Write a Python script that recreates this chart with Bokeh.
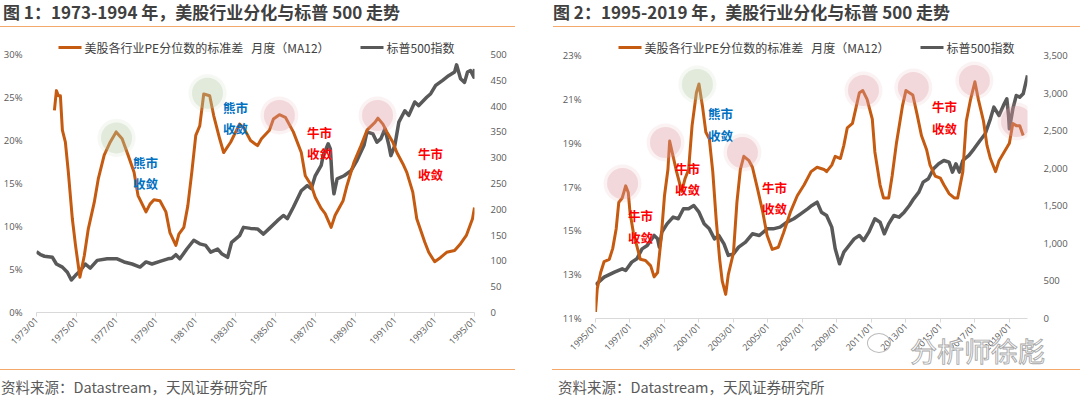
import numpy as np
from math import pi
from bokeh.plotting import figure
from bokeh.models import Range1d, LinearAxis, FixedTicker, NumeralTickFormatter, Label, BoxAnnotation, Div
from bokeh.layouts import row, column
from bokeh.embed import file_html
from bokeh.resources import INLINE

CJK = "Noto Sans CJK SC"
NUM = "Open Sans"

# ---------------- texts ----------------
title1 = "图 1：1973-1994 年，美股行业分化与标普 500 走势"
title2 = "图 2：1995-2019 年，美股行业分化与标普 500 走势"
legend_disp = "美股各行业PE分位数的标准差\u00a0\u00a0\u00a0月度（MA12）"
legend_spx = "标普500指数"
source_text = "资料来源：Datastream，天风证券研究所"
watermark = "分析师徐彪"

# ---------------- chart 1 data (1973-1994) ----------------
c1_ticks = list(range(1973, 1996, 2))
c1_tick_labels = [f"{y}/01" for y in c1_ticks]
c1_pct_ticks = [0, 5, 10, 15, 20, 25, 30]
c1_spx_ticks = [0, 50, 100, 150, 200, 250, 300, 350, 400, 450, 500]

c1_disp = [(1973.9, 23.5), (1974.0, 25.8), (1974.1, 25.2), (1974.2, 25.2), (1974.3, 21.2), (1974.45, 19.8),
           (1974.6, 16.3), (1974.8, 10.9), (1974.96, 7.8), (1975.18, 4.1), (1975.4, 6.6), (1975.6, 9.7),
           (1975.9, 12.8), (1976.1, 15.5), (1976.4, 18.3), (1976.7, 19.8), (1977.0, 21.0), (1977.3, 20.2),
           (1977.6, 18.3), (1977.9, 16.3), (1978.1, 13.6), (1978.5, 11.7), (1978.7, 12.6), (1978.9, 13.1),
           (1979.2, 13.0), (1979.5, 11.7), (1979.7, 9.3), (1980.0, 7.8), (1980.15, 9.1), (1980.4, 9.9),
           (1980.6, 12.4), (1980.8, 16.3), (1981.0, 20.6), (1981.2, 21.7), (1981.4, 25.4), (1981.7, 25.2),
           (1981.9, 22.9), (1982.2, 20.2), (1982.4, 18.6), (1982.75, 19.8), (1983.2, 21.9), (1983.4, 21.5),
           (1983.75, 20.0), (1984.1, 19.4), (1984.3, 20.2), (1984.7, 21.2), (1984.9, 22.5), (1985.2, 23.0),
           (1985.5, 22.7), (1985.9, 21.0), (1986.3, 18.6), (1986.5, 15.9), (1986.8, 14.8), (1987.0, 13.4),
           (1987.3, 12.1), (1987.5, 11.5), (1987.8, 9.9), (1988.0, 11.3), (1988.4, 13.0), (1988.6, 14.8),
           (1988.95, 17.5), (1989.3, 19.4), (1989.6, 21.2), (1990.0, 22.1), (1990.15, 22.6), (1990.4, 21.9),
           (1990.6, 21.0), (1990.9, 19.8), (1991.1, 18.6), (1991.4, 17.3), (1991.6, 16.3), (1991.9, 14.0),
           (1992.1, 10.9), (1992.5, 8.2), (1992.7, 7.0), (1993.0, 5.9), (1993.3, 6.4), (1993.6, 7.0),
           (1994.0, 7.2), (1994.3, 8.0), (1994.6, 9.0), (1994.9, 10.9), (1995.0, 12.2)]

c1_spx = [(1973.0, 118), (1973.2, 112), (1973.4, 109), (1973.6, 108), (1973.8, 107), (1974.0, 94), (1974.3, 88),
          (1974.55, 78), (1974.75, 63), (1974.96, 72), (1975.2, 81), (1975.45, 94), (1975.7, 86), (1976.05, 101),
          (1976.55, 104), (1977.05, 104), (1977.4, 98), (1977.8, 94), (1978.2, 88), (1978.5, 98), (1978.8, 94),
          (1979.2, 99), (1979.6, 104), (1979.8, 105), (1980.0, 112), (1980.2, 104), (1980.55, 123), (1980.9, 140),
          (1981.2, 133), (1981.5, 130), (1981.75, 117), (1982.1, 123), (1982.3, 114), (1982.6, 107), (1982.8, 136),
          (1983.2, 149), (1983.4, 165), (1983.75, 163), (1984.1, 162), (1984.4, 152), (1984.7, 163), (1985.1, 178),
          (1985.4, 188), (1985.6, 182), (1985.9, 204), (1986.3, 236), (1986.6, 246), (1986.8, 240), (1987.0, 265),
          (1987.3, 285), (1987.4, 304), (1987.65, 327), (1987.76, 317), (1987.85, 259), (1987.94, 230),
          (1988.1, 259), (1988.45, 265), (1988.8, 275), (1989.1, 295), (1989.45, 324), (1989.6, 350),
          (1989.9, 346), (1990.1, 330), (1990.3, 337), (1990.5, 356), (1990.7, 324), (1990.8, 304), (1991.0, 324),
          (1991.2, 369), (1991.5, 391), (1991.7, 382), (1992.0, 408), (1992.2, 401), (1992.6, 417), (1992.8, 424),
          (1993.05, 440), (1993.4, 450), (1993.7, 459), (1994.0, 466), (1994.1, 480), (1994.3, 453), (1994.5, 446),
          (1994.65, 466), (1994.8, 469), (1994.97, 456), (1995.0, 472)]

# highlighted turning points (date, level %, kind)
c1_hl = [(1977.02, 20.3, "bear"), (1981.59, 25.5, "bear"), (1985.2, 22.9, "bull"), (1990.13, 22.9, "bull")]
# notes: (line1, line2, date, level of line1 %, level of line2 %, kind)
c1_notes = [("熊市", "收敛", 1978.47, 17.44, 15.0, "bear"), ("熊市", "收敛", 1982.99, 23.84, 21.4, "bear"),
            ("牛市", "收敛", 1987.21, 20.93, 18.49, "bull"), ("牛市", "收敛", 1992.79, 18.49, 16.05, "bull")]

# ---------------- chart 2 data (1995-2019) ----------------
c2_ticks = list(range(1995, 2020, 2))
c2_tick_labels = [f"{y}/01" for y in c2_ticks]
c2_pct_ticks = [11, 13, 15, 17, 19, 21, 23]
c2_spx_ticks = [0, 500, 1000, 1500, 2000, 2500, 3000, 3500]

c2_disp = [(1995.0, 11.3), (1995.1, 12.35), (1995.3, 13.1), (1995.5, 13.6), (1995.8, 13.7), (1996.0, 14.2),
           (1996.2, 15.1), (1996.35, 16.3), (1996.55, 16.5), (1996.75, 17.05), (1996.9, 16.75), (1997.0, 15.85),
           (1997.2, 14.9), (1997.4, 14.3), (1997.6, 13.7), (1997.9, 13.65), (1998.2, 13.4), (1998.4, 12.9),
           (1998.6, 13.1), (1998.8, 14.6), (1999.0, 16.6), (1999.2, 17.8), (1999.3, 19.1), (1999.5, 18.4),
           (1999.7, 17.7), (2000.0, 16.8), (2000.2, 17.4), (2000.4, 17.8), (2000.6, 19.8), (2000.85, 21.3),
           (2001.0, 21.7), (2001.2, 20.7), (2001.4, 19.5), (2001.6, 19.2), (2001.8, 17.7), (2002.0, 15.5),
           (2002.2, 13.7), (2002.35, 12.7), (2002.55, 12.1), (2002.7, 13.0), (2003.0, 14.0), (2003.2, 16.3),
           (2003.4, 17.8), (2003.6, 18.4), (2003.9, 18.2), (2004.1, 17.9), (2004.4, 16.9), (2004.7, 15.85),
           (2004.95, 14.8), (2005.25, 14.15), (2005.6, 14.25), (2005.9, 14.9), (2006.3, 15.85), (2006.7, 16.6),
           (2007.1, 17.1), (2007.5, 17.7), (2007.85, 17.9), (2008.25, 17.8), (2008.4, 17.7), (2008.7, 18.0),
           (2008.9, 18.4), (2009.2, 18.3), (2009.4, 18.9), (2009.6, 19.7), (2009.9, 19.9), (2010.1, 20.6),
           (2010.3, 21.3), (2010.5, 21.4), (2010.75, 21.0), (2011.05, 20.1), (2011.2, 18.6), (2011.5, 17.1),
           (2011.7, 16.5), (2012.0, 16.5), (2012.2, 17.5), (2012.45, 19.0), (2012.8, 20.7), (2013.0, 21.4),
           (2013.4, 21.2), (2013.65, 20.3), (2013.9, 19.35), (2014.2, 18.7), (2014.4, 18.0), (2014.7, 17.5),
           (2015.0, 17.4), (2015.2, 17.1), (2015.5, 16.7), (2015.8, 16.5), (2016.0, 16.5), (2016.3, 17.7),
           (2016.5, 20.0), (2016.75, 21.0), (2017.0, 21.8), (2017.2, 21.0), (2017.5, 20.0), (2017.7, 18.9),
           (2017.9, 18.3), (2018.2, 17.7), (2018.4, 18.2), (2018.7, 18.6), (2019.0, 19.0), (2019.2, 19.9),
           (2019.4, 19.8), (2019.6, 19.8), (2019.8, 19.35)]

c2_spx = [(1995.0, 448), (1995.5, 550), (1996.1, 617), (1996.55, 661), (1996.75, 639), (1997.1, 750),
          (1997.4, 794), (1997.7, 927), (1998.0, 972), (1998.4, 1105), (1998.6, 1060), (1998.7, 949),
          (1998.85, 1149), (1999.15, 1260), (1999.5, 1349), (1999.8, 1327), (2000.1, 1460), (2000.4, 1460),
          (2000.7, 1504), (2001.0, 1415), (2001.3, 1260), (2001.6, 1193), (2001.9, 1060), (2002.15, 1105),
          (2002.45, 994), (2002.7, 839), (2003.0, 861), (2003.3, 949), (2003.7, 1016), (2004.1, 1127),
          (2004.5, 1105), (2004.95, 1193), (2005.3, 1193), (2005.7, 1216), (2006.1, 1282), (2006.5, 1327),
          (2006.9, 1393), (2007.3, 1460), (2007.55, 1504), (2007.85, 1548), (2008.1, 1415), (2008.4, 1371),
          (2008.7, 1216), (2008.9, 927), (2009.15, 728), (2009.4, 883), (2009.7, 972), (2010.0, 1060),
          (2010.3, 1105), (2010.55, 1038), (2010.85, 1149), (2011.2, 1327), (2011.5, 1282), (2011.75, 1127),
          (2012.0, 1260), (2012.3, 1371), (2012.6, 1349), (2012.9, 1415), (2013.2, 1504), (2013.45, 1593),
          (2013.75, 1681), (2014.0, 1815), (2014.3, 1859), (2014.6, 1992), (2014.9, 2059), (2015.2, 2103),
          (2015.5, 2081), (2015.7, 1948), (2015.9, 2059), (2016.1, 1948), (2016.3, 2103), (2016.65, 2170),
          (2016.95, 2258), (2017.3, 2369), (2017.6, 2458), (2017.9, 2657), (2018.1, 2813), (2018.4, 2702),
          (2018.7, 2857), (2018.85, 2924), (2018.95, 2702), (2019.0, 2524), (2019.2, 2790), (2019.4, 2968),
          (2019.6, 2946), (2019.8, 2990), (2020.05, 3234)]

c2_hl = [(1996.57, 17.16, "bull"), (1999.06, 19.03, "bull"), (2000.91, 21.68, "bear"), (2003.52, 18.57, "bull"),
         (2010.54, 21.40, "bull"), (2013.43, 21.54, "bull"), (2016.97, 21.86, "bull"), (2019.41, 19.99, "bull")]
c2_notes = [("牛市", "收敛", 1997.61, 15.70, 14.70, "bull"), ("牛市", "收敛", 2000.33, 17.84, 16.89, "bull"),
            ("熊市", "收敛", 2002.25, 20.35, 19.35, "bear"), ("牛市", "收敛", 2005.38, 16.98, 16.02, "bull"),
            ("牛市", "收敛", 2015.24, 20.67, 19.67, "bull")]

# ---------------- styles / layout ----------------
ORANGE = "#C55A11"
GREY = "#595959"
RULE = "#F4A86A"
TXT = "#595959"
HL_FILL = {"bear": "#B3C9A6", "bull": "#DE9AA3"}
NOTE_COL = {"bear": "#0070C0", "bull": "#FF0000"}

TITLE_H = 34      # page y where the figures begin
FIG_H = 322
FIG_W = 540
SRC_H = 41
FRAME_TOP = 40    # page y of the frame top (legend sits inside the frame)


def build(page_left, f_left, f_width, ax_top_px, ax_bot_px, x0, x1, pct_ticks, spx_ticks, spx_fmt,
          ticks, tick_labels, disp, spx, hl, notes, leg_x1, leg_x2):
    y0, y1 = pct_ticks[0], pct_ticks[-1]
    s0, s1 = spx_ticks[0], spx_ticks[-1]
    f_height = ax_bot_px - FRAME_TOP
    ext = (ax_bot_px - FRAME_TOP) / (ax_bot_px - ax_top_px)   # frame extends above the top tick
    ytop = y0 + (y1 - y0) * ext
    stop = s0 + (s1 - s0) * ext
    p = figure(frame_width=f_width, frame_height=f_height,
               min_border_left=f_left - page_left, min_border_right=FIG_W - (f_left - page_left) - f_width,
               min_border_top=FRAME_TOP - TITLE_H, min_border_bottom=FIG_H - (FRAME_TOP - TITLE_H) - f_height,
               x_range=Range1d(x0, x1), y_range=Range1d(y0 / 100, ytop / 100),
               output_backend="svg", toolbar_location=None, background_fill_color="white",
               border_fill_color="white", outline_line_color=None, margin=0)
    p.xgrid.visible = False
    p.ygrid.visible = False
    p.extra_y_ranges = {"spx": Range1d(s0, stop)}

    xa = p.xaxis[0]
    xa.ticker = FixedTicker(ticks=ticks)
    xa.major_label_overrides = {t: lab for t, lab in zip(ticks, tick_labels)}
    xa.major_label_orientation = pi / 4
    xa.axis_line_color = "#D9D9D9"
    xa.major_tick_line_color = "#D9D9D9"
    xa.major_tick_in = 0
    xa.major_tick_out = 4
    xa.minor_tick_line_color = None
    xa.major_label_text_font = NUM
    xa.major_label_text_font_size = "9px"
    xa.major_label_text_color = TXT
    xa.major_label_standoff = 2

    ya = p.yaxis[0]
    ya.ticker = FixedTicker(ticks=[t / 100 for t in pct_ticks])
    ya.formatter = NumeralTickFormatter(format="0%")
    ya.axis_line_color = None
    ya.major_tick_line_color = None
    ya.minor_tick_line_color = None
    ya.major_label_text_font = NUM
    ya.major_label_text_font_size = "9.5px"
    ya.major_label_text_color = TXT
    ya.major_label_standoff = 8

    ra = LinearAxis(y_range_name="spx", ticker=FixedTicker(ticks=spx_ticks),
                    formatter=NumeralTickFormatter(format=spx_fmt))
    ra.axis_line_color = None
    ra.major_tick_line_color = None
    ra.minor_tick_line_color = None
    ra.major_label_text_font = NUM
    ra.major_label_text_font_size = "9.5px"
    ra.major_label_text_color = TXT
    ra.major_label_standoff = 10
    p.add_layout(ra, "right")

    p.line([d for d, v in spx], [v for d, v in spx], y_range_name="spx",
           line_color=GREY, line_width=3.5, line_join="round")
    p.line([d for d, v in disp], [v / 100 for d, v in disp], line_color=ORANGE, line_width=3, line_join="round")

    for d, v, k in hl:
        p.scatter([d], [v / 100], size=38, fill_color=HL_FILL[k], fill_alpha=0.13, line_color=None)
        p.scatter([d], [v / 100], size=31, fill_color=HL_FILL[k], fill_alpha=0.3, line_color=None)

    for a, b, d, vt, vb, k in notes:
        for txt, v in ((a, vt), (b, vb)):
            p.add_layout(Label(x=d, y=v / 100, text=txt, text_align="center", text_baseline="middle",
                               text_font=CJK, text_font_size="12.5px", text_font_style="bold",
                               text_color=NOTE_COL[k]))

    # legend inside the frame's top strip: page pixel positions converted to data
    def dxp(px):
        return x0 + (px - f_left) / f_width * (x1 - x0)

    def dyp(py):
        return (ytop - (py - FRAME_TOP) / f_height * (ytop - y0)) / 100

    for lx, col, txt in ((leg_x1, ORANGE, legend_disp), (leg_x2, GREY, legend_spx)):
        p.add_layout(BoxAnnotation(left=dxp(lx), right=dxp(lx + 23), top=dyp(45.5), bottom=dyp(48.5),
                                   fill_color=col, fill_alpha=1, line_color=None))
        p.add_layout(Label(x=dxp(lx + 26), y=dyp(47), text=txt, text_align="left", text_baseline="middle",
                           text_font=CJK, text_font_size="12px", text_color="#404040"))
    return p


p1 = build(0, 36, 438, 54, 312, 1973, 1995, c1_pct_ticks, c1_spx_ticks, "0",
           c1_ticks, c1_tick_labels, c1_disp, c1_spx, c1_hl, c1_notes, 58, 360)
p2 = build(540, 595, 432, 55, 318, 1995, 2020.05, c2_pct_ticks, c2_spx_ticks, "0,0",
           c2_ticks, c2_tick_labels, c2_disp, c2_spx, c2_hl, c2_notes, 618, 920)


def title_div(text, text_dx, rule_dx, rule_w):
    html = (f'<div style="position:relative;width:{FIG_W}px;height:{TITLE_H}px;">'
            f'<div style="position:absolute;left:{text_dx}px;top:2px;white-space:nowrap;line-height:20px;'
            f'font-family:\'{CJK}\';font-size:17px;font-weight:bold;color:#404040;">{text}</div>'
            f'<div style="position:absolute;left:{rule_dx}px;top:26px;width:{rule_w}px;height:0;'
            f'border-top:1.6px solid {RULE};"></div></div>')
    return Div(text=html, width=FIG_W, height=TITLE_H, margin=0)


def source_div(text_dx, rule_dx, rule_w, extra=""):
    html = (f'<div style="position:relative;width:{FIG_W}px;height:{SRC_H}px;">'
            f'<div style="position:absolute;left:{rule_dx}px;top:9px;width:{rule_w}px;height:0;'
            f'border-top:1.6px solid {RULE};"></div>'
            f'<div style="position:absolute;left:{text_dx}px;top:17px;white-space:nowrap;line-height:20px;'
            f'font-family:\'{CJK}\';font-size:14.5px;color:{TXT};">{source_text}</div>{extra}</div>')
    return Div(text=html, width=FIG_W, height=SRC_H, margin=0)


wm = (f'<div style="position:absolute;left:327px;top:-27px;width:24px;height:20px;border:1.2px solid #BBBBBB;'
      f'border-radius:50%;"></div>'
      f'<div style="position:absolute;left:370px;top:-24px;white-space:nowrap;line-height:30px;'
      f'font-family:\'{CJK}\';font-size:27px;color:#FFFFFF;-webkit-text-stroke:0.9px #A8A8A8;">{watermark}</div>')

t1 = title_div(title1, 3, 0, 515)
t2 = title_div(title2, 13, 13, 527)
s1 = source_div(1, 0, 515)
s2 = source_div(18, 12, 528, wm)

layout = column(row(t1, t2, spacing=0, margin=0), row(p1, p2, spacing=0, margin=0),
                row(s1, s2, spacing=0, margin=0), spacing=0, margin=0)
open("out.html", "w").write(file_html(layout, INLINE))
